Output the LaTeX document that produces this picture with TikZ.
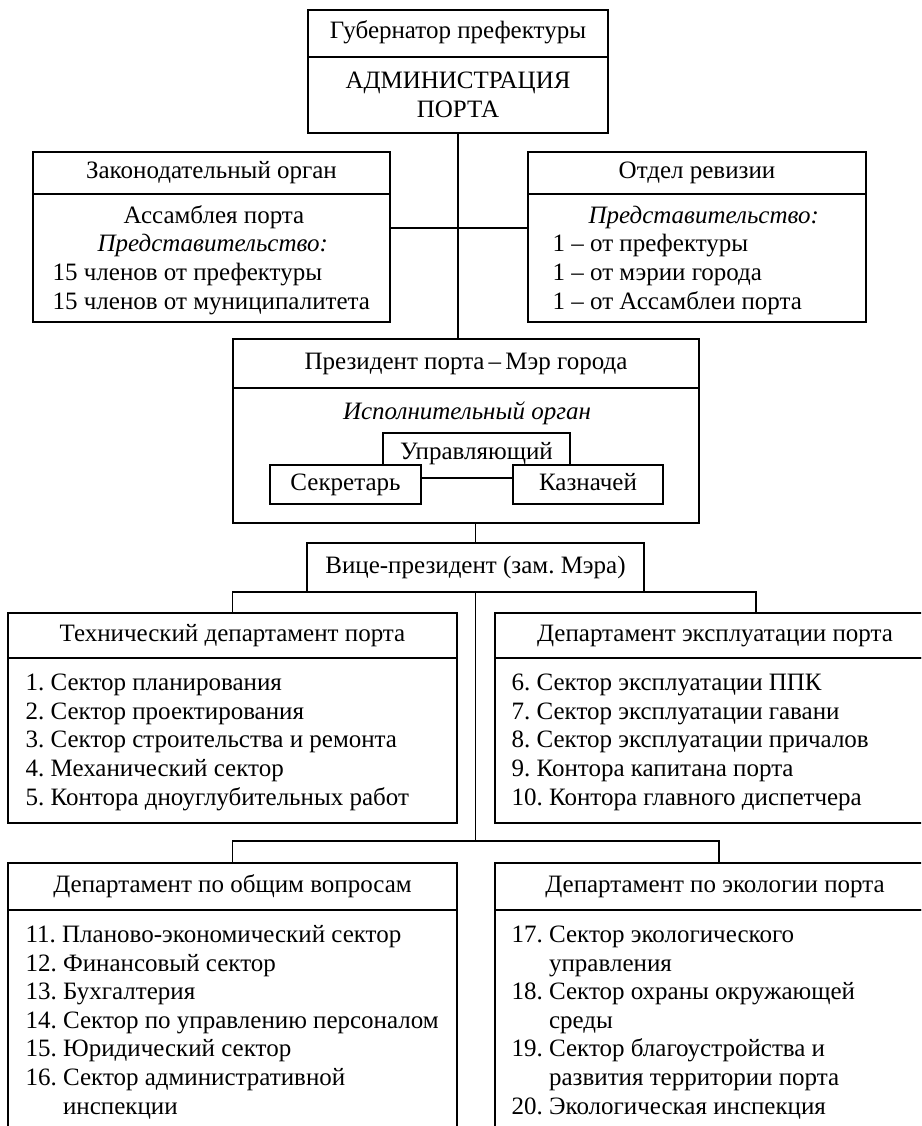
\documentclass[tikz,border=0pt]{standalone}
\usepackage{fontspec}
\setmainfont{Liberation Serif}

\begin{document}
\frenchspacing
\begin{tikzpicture}[x=1pt,y=-1pt,line width=1.2pt,
  every node/.style={font=\fontsize{25}{28.6}\selectfont},
  box/.style={draw,anchor=north west,inner sep=0pt,outer sep=0pt,align=center},
  cell/.style={box,text height=17pt,text depth=6pt},
  items/.style={anchor=base west,align=left,inner sep=0pt}]
\useasboundingbox (0,0) rectangle (921,1126);
\clip (0,0) rectangle (921,1126);

% top
\node[cell,minimum width=300pt,minimum height=47pt] (gov) at (308,10) {Губернатор префектуры};
\node[box,minimum width=300pt,minimum height=76pt] (adm) at (308,57) {АДМИНИСТРАЦИЯ\\ПОРТА};

% legislative body and revision (items anchored at the last line)
\node[cell,minimum width=357pt,minimum height=42pt] (leg) at (33,152) {Законодательный орган};
\node[box,minimum width=357pt,minimum height=128pt] (legbody) at (33,194) {};
\node[items] (legtext) at (52,309) {\hspace*{71pt}Ассамблея порта\\\hspace*{45pt}\textit{Представительство:}\\15 членов от префектуры\\15 членов от муниципалитета};
\node[cell,minimum width=338pt,minimum height=42pt] (rev) at (528,152) {Отдел ревизии};
\node[box,minimum width=338pt,minimum height=128pt] (revbody) at (528,194) {};
\node[items] (revtext) at (552,309) {\hspace*{36pt}\textit{Представительство:}\\1 – от префектуры\\1 – от мэрии города\\1 – от Ассамблеи порта};

% president
\node[cell,minimum width=466pt,minimum height=49pt] (pres) at (233,339) {Президент порта\,–\,Мэр города};
\node[box,minimum width=466pt,minimum height=135pt] (presbody) at (233,388) {};
\node (exec) at (467,413) {\textit{Исполнительный орган}};
\node[cell,text depth=9pt,minimum width=187pt,minimum height=45pt] (mgr) at (383,433) {Управляющий};
\node[cell,fill=white,minimum width=151pt,minimum height=39pt] (sec) at (270,465) {Секретарь};
\node[cell,fill=white,minimum width=150pt,minimum height=39pt] (kaz) at (513,465) {Казначей};

\node[cell,minimum width=337pt,minimum height=49pt] (vp) at (307,543) {Вице-президент (зам. Мэра)};

% departments
\node[cell,minimum width=449pt,minimum height=45pt] (tech) at (8,613) {Технический департамент порта};
\node[box,minimum width=449pt,minimum height=165pt] (techbody) at (8,658) {};
\node[items] (techlist) at (25,805) {1. Сектор планирования\\2. Сектор проектирования\\3. Сектор строительства и ремонта\\4. Механический сектор\\5. Контора дноуглубительных работ};

\node[cell,minimum width=440pt,minimum height=45pt] (expl) at (495,613) {Департамент эксплуатации порта};
\node[box,minimum width=440pt,minimum height=165pt] (explbody) at (495,658) {};
\node[items] (expllist) at (511,805) {6. Сектор эксплуатации ППК\\7. Сектор эксплуатации гавани\\8. Сектор эксплуатации причалов\\9. Контора капитана порта\\10. Контора главного диспетчера};

\node[cell,minimum width=449pt,minimum height=47pt] (gen) at (8,863) {Департамент по общим вопросам};
\node[box,minimum width=449pt,minimum height=230pt] (genbody) at (8,910) {};
\node[items] (genlist) at (25,1114) {11. Планово-экономический сектор\\12. Финансовый сектор\\13. Бухгалтерия\\14. Сектор по управлению персоналом\\15. Юридический сектор\\16. Сектор административной\\\hphantom{16. }инспекции};

\node[cell,minimum width=440pt,minimum height=47pt] (eco) at (495,863) {Департамент по экологии порта};
\node[box,minimum width=440pt,minimum height=230pt] (ecobody) at (495,910) {};
\node[items] (ecolist) at (511,1114) {17. Сектор экологического\\\hphantom{17. }управления\\18. Сектор охраны окружающей\\\hphantom{18. }среды\\19. Сектор благоустройства и\\\hphantom{19. }развития территории порта\\20. Экологическая инспекция};

% connectors
\coordinate (mid) at (458,228);
\coordinate (jexpl) at (756,613);
\coordinate (fork) at (475.5,841);
\coordinate (jeco) at (719,863);
\draw (adm.south) -- (adm.south |- pres.north);
\draw (legbody.east |- mid) -- (revbody.west |- mid);
\draw (vp.north) -- (vp.north |- presbody.south);
\draw (tech.north) |- (vp.south) -| (jexpl);
\draw (vp.south) -- (fork);
\draw (gen.north) |- (fork) -| (jeco);
\end{tikzpicture}
\end{document}
